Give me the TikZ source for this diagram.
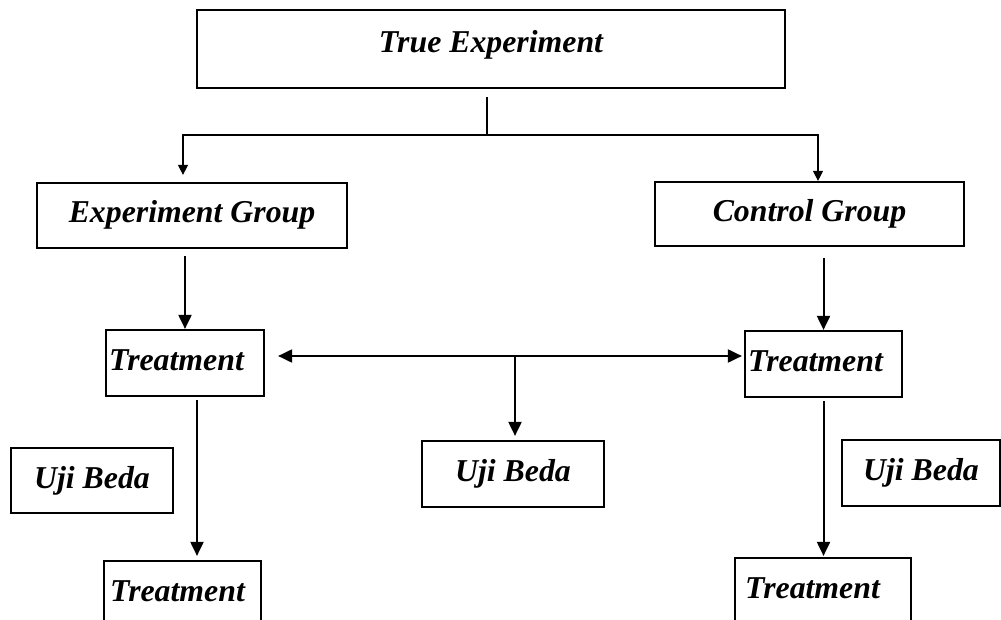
\documentclass[tikz,border=0pt]{standalone}
\usepackage{fontspec}
\setmainfont{Liberation Serif}
\usetikzlibrary{arrows.meta}

\begin{document}
\begin{tikzpicture}[
    x=0.5pt,y=-0.5pt,
    box/.style={rectangle,draw,line width=1.1pt,inner sep=0pt,align=center,
      font=\fontsize{15.9pt}{19pt}\selectfont\bfseries\itshape,
      text height=11pt,text depth=3.5pt},
    treat/.style={box,align=left,text width=#1},
    thinline/.style={line width=0.6pt,-{Triangle[length=5pt,width=5pt]}},
    link/.style={line width=1pt,->},
    >={Triangle[length=7pt,width=6.5pt]}]
    \clip (0,0) rectangle (1001,620);
    \node[box,minimum width=294pt,minimum height=39pt,text depth=7.9pt] (top) at (491,49) {True Experiment};
    \node[box,minimum width=155pt,minimum height=32.5pt] (expg) at (192,215.5) {Experiment Group};
    \node[box,minimum width=154.5pt,minimum height=32pt] (ctrl) at (809.5,214) {Control Group};
    \node[treat=76pt,inner xsep=1.5pt,minimum height=33pt] (treatL) at (185,363) {Treatment};
    \node[treat=75.5pt,inner xsep=1.5pt,minimum height=33pt] (treatR) at (823.5,364) {Treatment};
    \node[box,minimum width=81pt,minimum height=32.5pt] (ujiL) at (92,480.5) {Uji Beda};
    \node[box,minimum width=91pt,minimum height=33pt] (ujiM) at (513,474) {Uji Beda};
    \node[box,minimum width=79pt,minimum height=33pt] (ujiR) at (921,473) {Uji Beda};
    \node[treat=72.5pt,inner xsep=3pt,minimum height=33pt] (resL) at (182.5,594) {Treatment};
    \node[treat=78pt,inner xsep=5pt,minimum height=33pt] (resR) at (823,591) {Treatment};
    % split of the top box into the two groups
    \coordinate (split) at (487,135);
    \draw[line width=0.6pt] ([xshift=-2pt,yshift=-4pt]top.south) -- (split);
    \draw[thinline,shorten >=3.5pt] (split) -| ([xshift=-4.5pt]expg.north);
    \draw[thinline] (split) -| ([xshift=4.25pt]ctrl.north);
    \draw[link,shorten <=3.5pt] (treatL.north |- expg.south) -- (treatL.north);
    \draw[link,shorten <=5.5pt] (treatR.north |- ctrl.south) -- (treatR.north);
    \coordinate (mid) at (515,356);
    \draw[link,<->,shorten <=6.5pt,shorten >=1pt] (treatL.east |- mid) -- (treatR.west |- mid);
    \draw[link,shorten >=2pt] (mid) -- (mid |- ujiM.north);
    \coordinate (dl) at ([xshift=6pt]treatL.south);
    \draw[link,shorten <=1.5pt,shorten >=2pt] (dl) -- (dl |- resL.north);
    \draw[link,shorten <=1.5pt,shorten >=0.5pt] (treatR.south) -- (treatR.south |- resR.north);
  \end{tikzpicture}
\end{document}
